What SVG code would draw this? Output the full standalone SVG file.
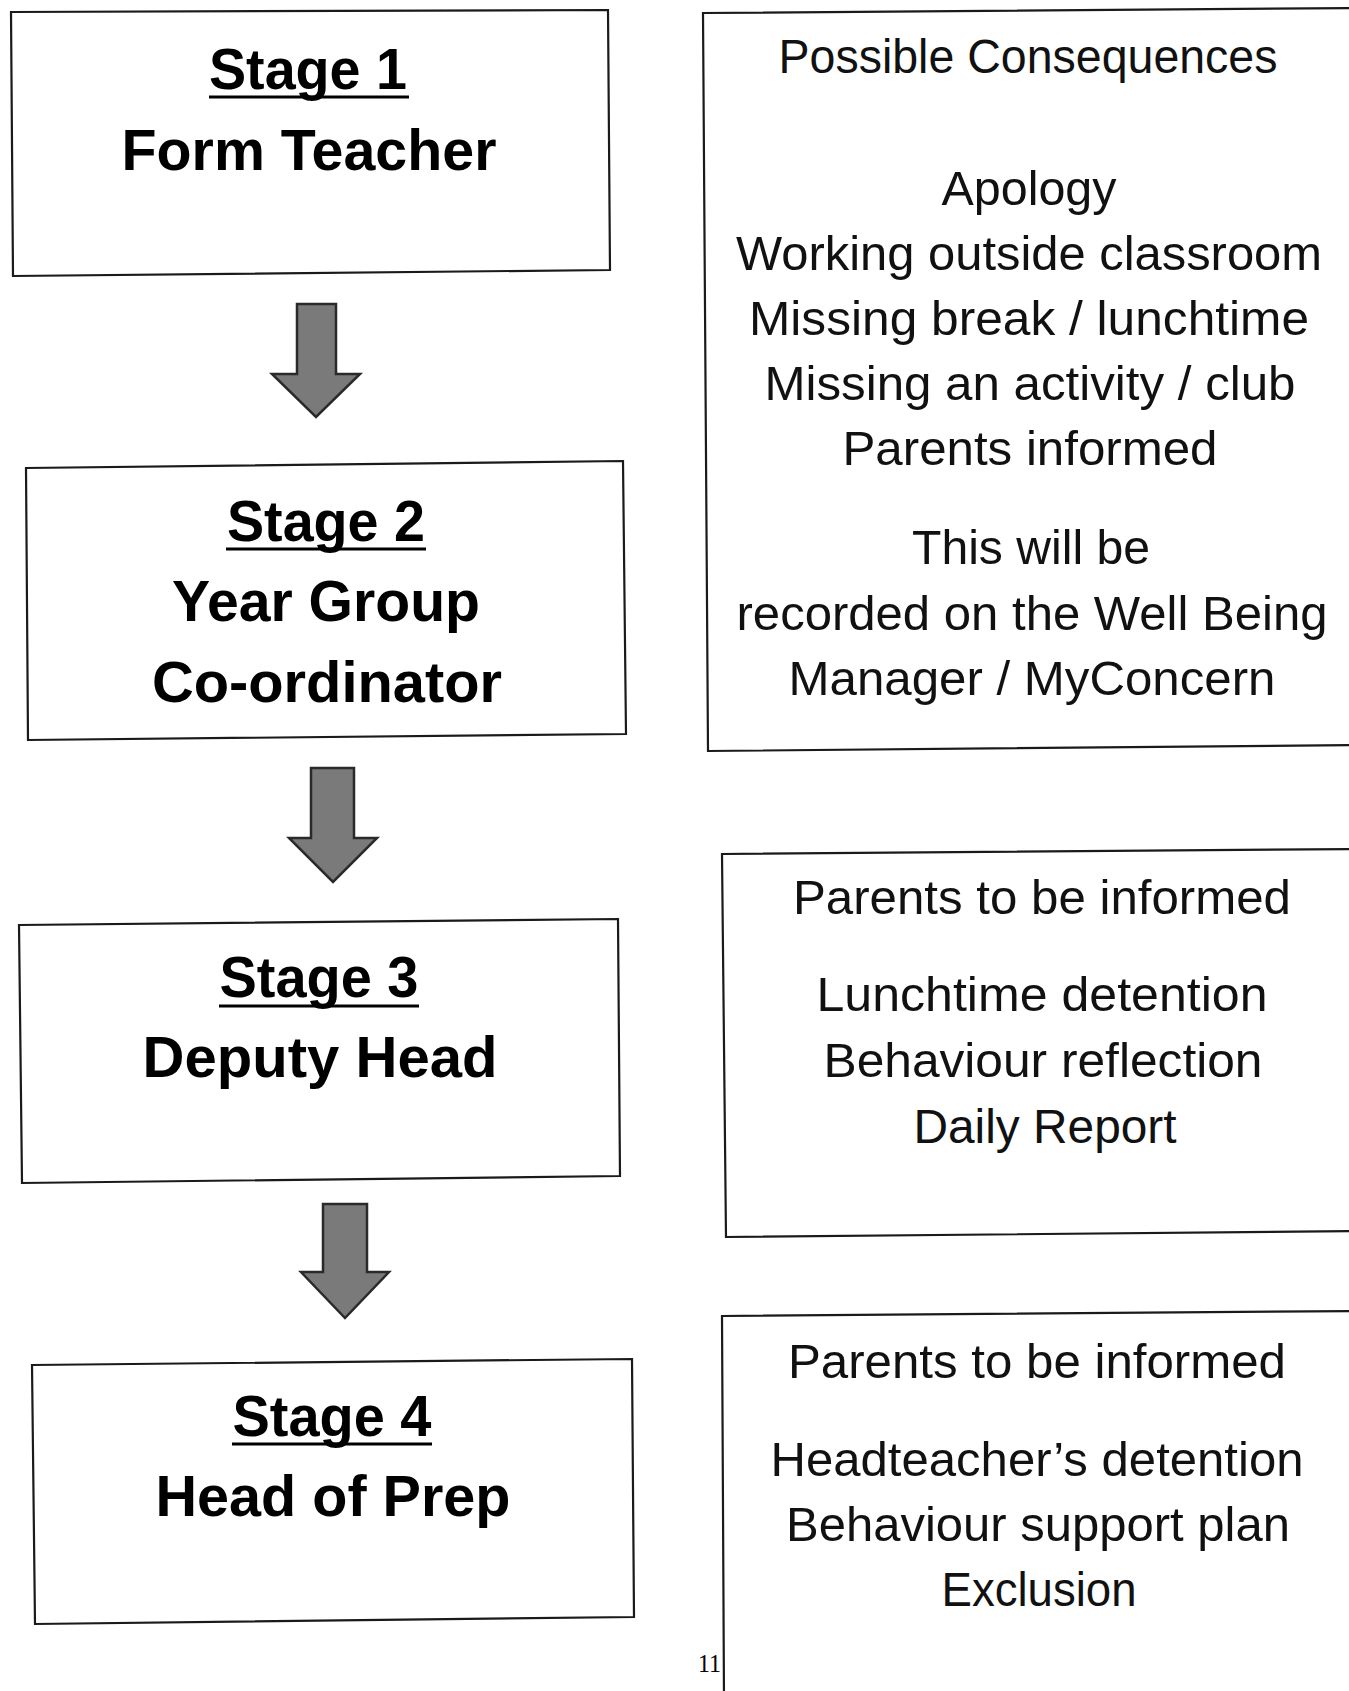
<svg xmlns="http://www.w3.org/2000/svg" width="1349" height="1691" viewBox="0 0 1349 1691">
<style>
.box{fill:#fff;stroke:#1a1a1a;stroke-width:2.2}
.st{font-family:"Liberation Sans",Arial,sans-serif;font-weight:bold;font-size:58px;fill:#000;text-anchor:middle}
.tx{font-family:"Liberation Sans",Arial,sans-serif;font-size:48px;fill:#111;text-anchor:middle}
.ul{stroke:#000;stroke-width:3}
.arr{fill:#7a7a7a;stroke:#2a2a2a;stroke-width:2.5;stroke-linejoin:miter}
.pg{font-family:"Liberation Serif","Times New Roman",serif;font-size:25px;fill:#000;text-anchor:end}
</style>
<rect width="1349" height="1691" fill="#fff"/>

<g id="connectors">
<polygon class="arr" points="297,304 336,304 336,374 360,374 316,417 272,374 297,374"/>
<polygon class="arr" points="311,768 354,768 354,838 377,838 333,882 289,838 311,838"/>
<polygon class="arr" points="323,1204 367,1204 367,1272 389,1272 345,1318 301,1272 323,1272"/>
</g>

<g id="stage1">
<polygon class="box" points="11,12 608,10 610,270 13,276"/>
<text class="st" x="308" y="89" textLength="198" lengthAdjust="spacingAndGlyphs">Stage 1</text>
<line class="ul" x1="209" y1="97" x2="409" y2="97"/>
<text class="st" x="309" y="170" textLength="375" lengthAdjust="spacingAndGlyphs">Form Teacher</text>
</g>

<g id="stage2">
<polygon class="box" points="26,468 623,461 626,734 28,740"/>
<text class="st" x="326" y="541" textLength="198" lengthAdjust="spacingAndGlyphs">Stage 2</text>
<line class="ul" x1="226" y1="549" x2="426" y2="549"/>
<text class="st" x="326" y="621" textLength="308" lengthAdjust="spacingAndGlyphs">Year Group</text>
<text class="st" x="327" y="702" textLength="350" lengthAdjust="spacingAndGlyphs">Co-ordinator</text>
</g>

<g id="stage3">
<polygon class="box" points="19,925 618,919 620,1176 22,1183"/>
<text class="st" x="319" y="997" textLength="199" lengthAdjust="spacingAndGlyphs">Stage 3</text>
<line class="ul" x1="219" y1="1006" x2="419" y2="1006"/>
<text class="st" x="320" y="1077" textLength="355" lengthAdjust="spacingAndGlyphs">Deputy Head</text>
</g>

<g id="stage4">
<polygon class="box" points="32,1365 632,1359 634,1617 35,1624"/>
<text class="st" x="332" y="1436" textLength="199" lengthAdjust="spacingAndGlyphs">Stage 4</text>
<line class="ul" x1="232" y1="1444" x2="432" y2="1444"/>
<text class="st" x="333" y="1516" textLength="355" lengthAdjust="spacingAndGlyphs">Head of Prep</text>
</g>

<g id="consequences1">
<polygon class="box" points="703,13 1360,8 1360,745 708,751"/>
<text class="tx" x="1028" y="73" textLength="499" lengthAdjust="spacingAndGlyphs">Possible Consequences</text>
<text class="tx" x="1029" y="205" textLength="175" lengthAdjust="spacingAndGlyphs">Apology</text>
<text class="tx" x="1029" y="270" textLength="586" lengthAdjust="spacingAndGlyphs">Working outside classroom</text>
<text class="tx" x="1029" y="335" textLength="560" lengthAdjust="spacingAndGlyphs">Missing break / lunchtime</text>
<text class="tx" x="1030" y="400" textLength="531" lengthAdjust="spacingAndGlyphs">Missing an activity / club</text>
<text class="tx" x="1030" y="465" textLength="375" lengthAdjust="spacingAndGlyphs">Parents informed</text>
<text class="tx" x="1031" y="564" textLength="238" lengthAdjust="spacingAndGlyphs">This will be</text>
<text class="tx" x="1032" y="630" textLength="591" lengthAdjust="spacingAndGlyphs">recorded on the Well Being</text>
<text class="tx" x="1032" y="695" textLength="487" lengthAdjust="spacingAndGlyphs">Manager / MyConcern</text>
</g>

<g id="consequences3">
<polygon class="box" points="722,854 1360,849 1360,1231 726,1237"/>
<text class="tx" x="1042" y="914" textLength="498" lengthAdjust="spacingAndGlyphs">Parents to be informed</text>
<text class="tx" x="1042" y="1011" textLength="451" lengthAdjust="spacingAndGlyphs">Lunchtime detention</text>
<text class="tx" x="1043" y="1077" textLength="439" lengthAdjust="spacingAndGlyphs">Behaviour reflection</text>
<text class="tx" x="1045" y="1143" textLength="263" lengthAdjust="spacingAndGlyphs">Daily Report</text>
</g>

<g id="consequences4">
<polygon class="box" points="722,1316 1360,1311 1360,1700 724,1700"/>
<text class="tx" x="1037" y="1378" textLength="498" lengthAdjust="spacingAndGlyphs">Parents to be informed</text>
<text class="tx" x="1037" y="1476" textLength="533" lengthAdjust="spacingAndGlyphs">Headteacher’s detention</text>
<text class="tx" x="1038" y="1541" textLength="504" lengthAdjust="spacingAndGlyphs">Behaviour support plan</text>
<text class="tx" x="1039" y="1606" textLength="195" lengthAdjust="spacingAndGlyphs">Exclusion</text>
</g>

<text class="pg" x="721" y="1672" textLength="23" lengthAdjust="spacingAndGlyphs">11</text>
</svg>
